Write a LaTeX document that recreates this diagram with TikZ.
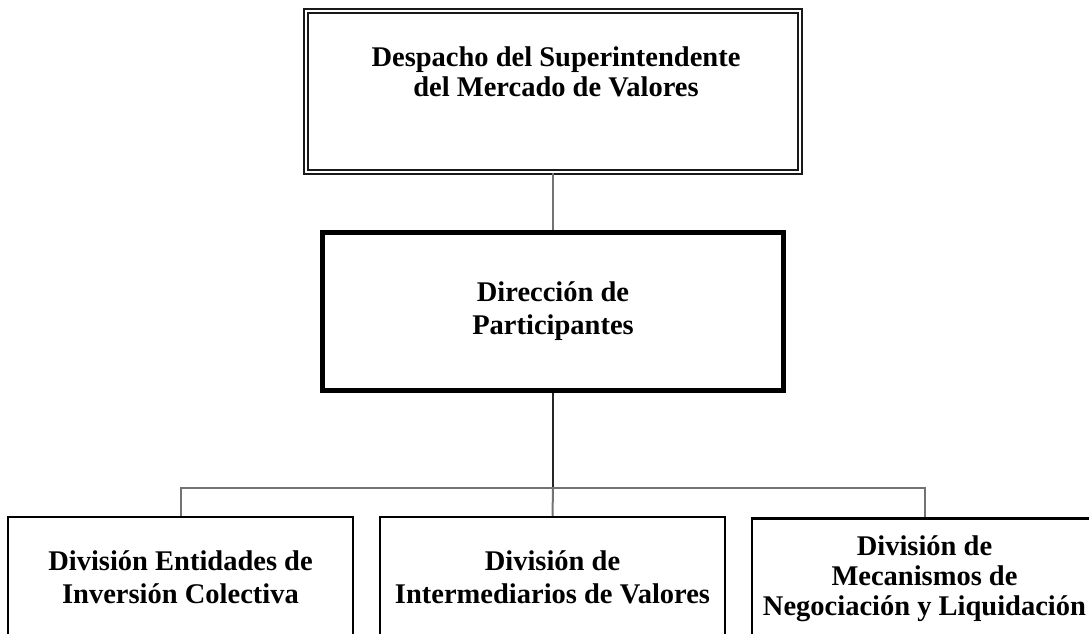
\documentclass[tikz,border=0pt]{standalone}
\usepackage{fontspec}
\setmainfont{Liberation Serif}
\begin{document}
\begin{tikzpicture}
                [x=1pt,y=-1pt,
        boxDouble/.style={rectangle,draw=black!90,double,double distance=2.5pt,line width=1.6pt,minimum width=494pt,minimum height=161pt,inner sep=0pt},
        boxThick/.style={rectangle,draw,line width=5pt,minimum width=461pt,minimum height=158pt,align=center,font=\fontsize{28.5}{33}\selectfont\bfseries},
        boxDiv/.style={rectangle,draw,line width=2.5pt,minimum width=345pt,minimum height=121pt,align=center,font=\fontsize{28.5}{33}\selectfont\bfseries},
        txt/.style={align=center,inner sep=0pt,font=\fontsize{28.5}{30}\selectfont\bfseries},
        link/.style={black!55,line width=2pt},
        linkDark/.style={black!85,line width=2.5pt}]
                \useasboundingbox (0,0) rectangle (1089,633);
                \clip (0,0) rectangle (1089,633);
                \node[boxDouble] (S) at (553,91.5) {};
                \node[txt] (St) at (556,72) {Despacho del Superintendente\\del Mercado de Valores};
                \node[boxThick] (P) at (553,311.5) {Dirección de\\Participantes};
                \node[boxDiv] (D1) at (180.5,577.5) {División Entidades de\\Inversión Colectiva};
                \node[boxDiv] (D2) at (552.5,577.5) {División de\\Intermediarios de Valores};
                \node[boxDiv,font=\fontsize{28.5}{30}\selectfont\bfseries] (D3) at (924.5,579) {División de\\Mecanismos de\\Negociación y Liquidación};
                \coordinate (J) at (553,488);
                
                \draw[link] (S.south) -- (P.north);
                \draw[linkDark] (P.south) -- (J);
                \draw[link] (D1.north) |- (J) -| (D3.north);
                \draw[link] (J) -- (D2.north);
            \end{tikzpicture}
\end{document}
